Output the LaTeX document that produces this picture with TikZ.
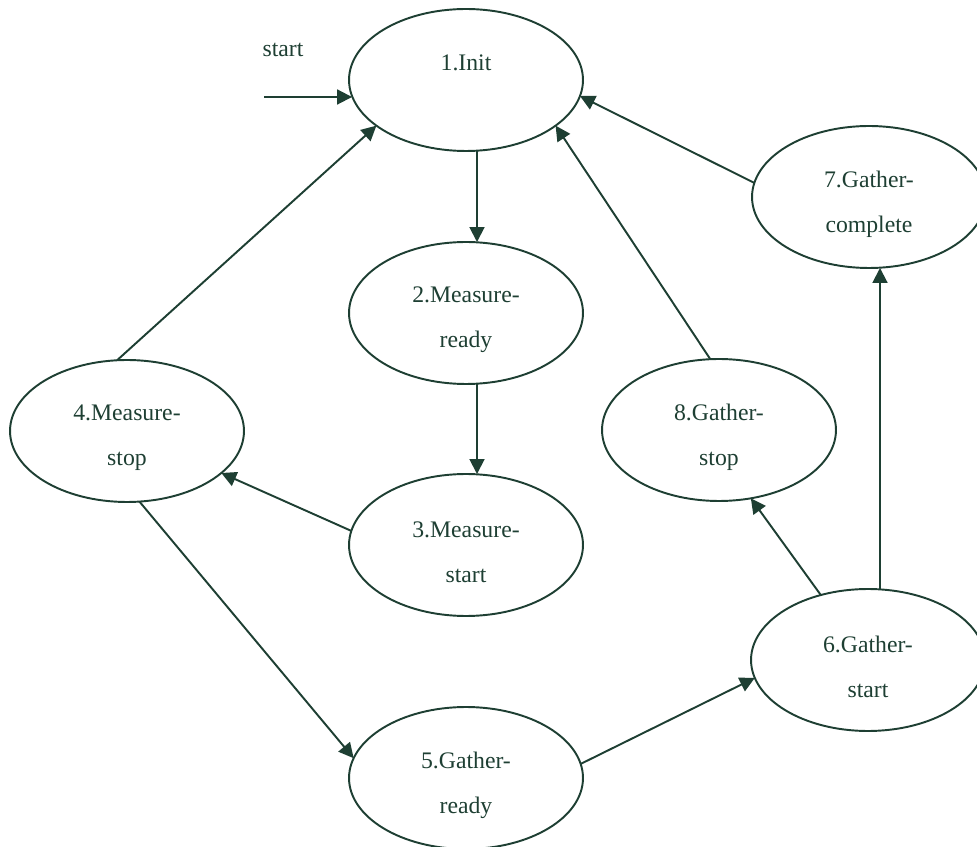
\documentclass[tikz,border=0pt]{standalone}
\usepackage{fontspec}
\setmainfont{Liberation Serif}
\usetikzlibrary{arrows.meta,calc,shapes.geometric}
\definecolor{ink}{HTML}{1E3F33}
\begin{document}
\begin{tikzpicture}[x=0.02cm,y=-0.02cm,
  state/.style={ellipse,draw=ink,line width=1.1pt,minimum width=4.68cm,
    minimum height=2.84cm,inner sep=0pt,outer sep=0pt},
  txt/.style={text=ink,font=\fontsize{13.5}{25.5}\selectfont,align=center,inner sep=0pt},
  link/.style={draw=ink,line width=1.1pt,-{Triangle[length=8.5pt,width=8.5pt]}}]
\useasboundingbox (0,0) rectangle (977,847);

% states
\node[state] (n1) at (466,80)  {};
\node[state] (n2) at (466,313) {};
\node[state] (n3) at (466,545) {};
\node[state] (n4) at (127,431) {};
\node[state] (n5) at (466,778) {};
\node[state] (n6) at (868,660) {};
\node[state] (n7) at (869,197) {};
\node[state] (n8) at (719,430) {};

% state names
\node[txt,anchor=base] (t1) at ($(n1)+(0,-9)$) {1.Init};
\node[txt] (t2) at ($(n2)+(0,7)$) {2.Measure-\\ready};
\node[txt] (t3) at ($(n3)+(0,7)$) {3.Measure-\\start};
\node[txt] (t4) at ($(n4)+(0,7)$) {4.Measure-\\stop};
\node[txt] (t5) at ($(n5)+(0,7)$) {5.Gather-\\ready};
\node[txt] (t6) at ($(n6)+(0,7)$) {6.Gather-\\start};
\node[txt] (t7) at ($(n7)+(0,7)$) {7.Gather-\\complete};
\node[txt] (t8) at ($(n8)+(0,7)$) {8.Gather-\\stop};

% initial transition
\coordinate (s) at (264,97);
\node[txt] (slabel) at (283,50) {start};
\draw[link] (s) -- (s -| n1.188);

% transitions
\draw[link] ([xshift=0.22cm]n1.south) -- ([xshift=0.22cm]n2.north);
\draw[link] ([xshift=0.22cm]n2.south) -- ([xshift=0.22cm]n3.north);
\draw[link] (n3.173) -- (n4.336);
\draw[link] (n4.98) -- (n1.207);
\draw[link] (n4.280) -- (n5.170);
\draw[link] (n5.7) -- (n6.189);
\draw[link] (n6.126) -- (n8.295);
\draw[link] ([xshift=0.24cm]n6.north) -- ([xshift=0.24cm]n6.north |- n7.south);
\draw[link] (n8.97) -- (n1.333);
\draw[link] (n7.173) -- (n1.352);
\end{tikzpicture}
\end{document}
